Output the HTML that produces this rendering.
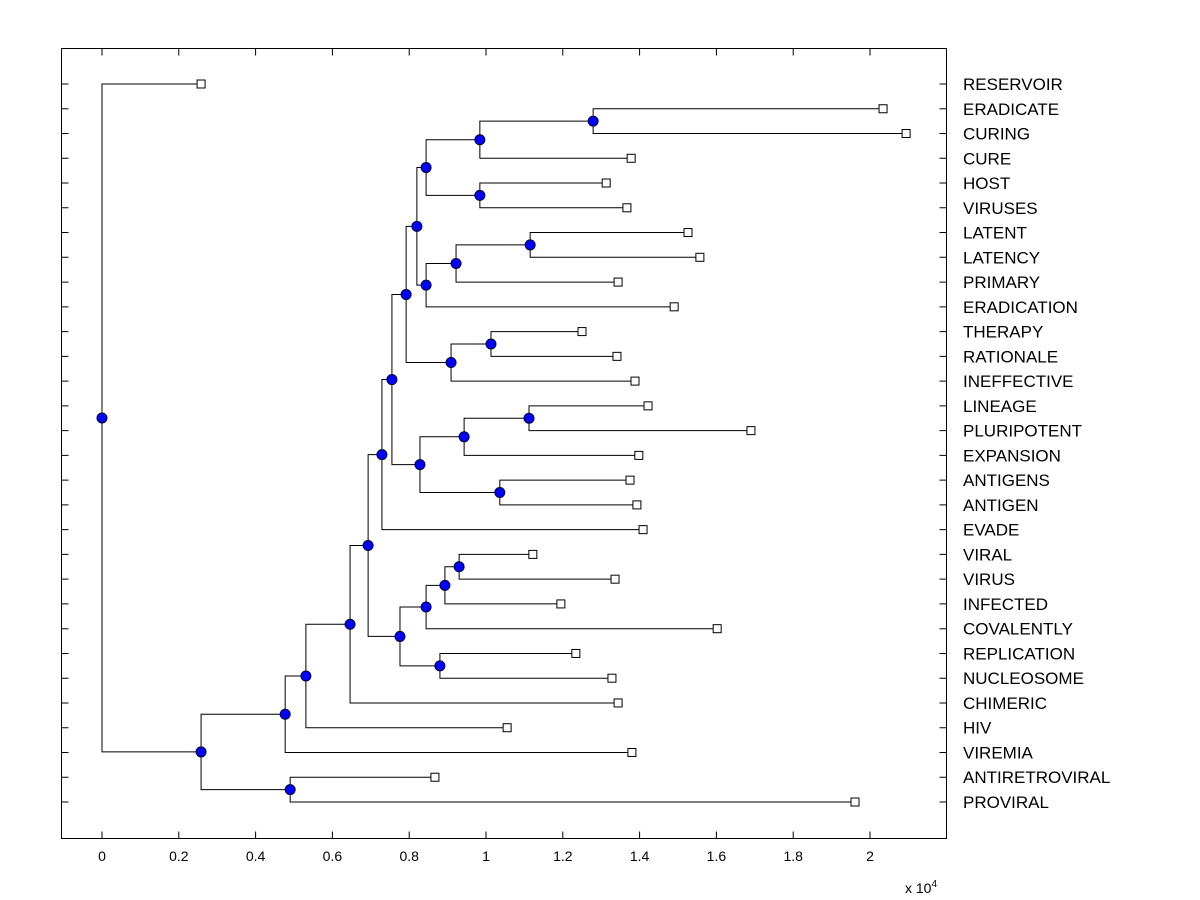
<!DOCTYPE html>
<html><head><meta charset="utf-8"><style>
body{margin:0;background:#fff;}
svg{display:block;font-family:"Liberation Sans",Arial,sans-serif;}
</style></head><body>
<svg id="chart" width="1200" height="900" viewBox="0 0 1200 900">
<rect x="61.5" y="48.5" width="885" height="790" fill="#fff" stroke="#000" stroke-width="1"/>
<g id="links"></g><g id="marks"></g><g id="axes"></g>
<text x="905" y="893" font-size="14">x 10<tspan dy="-6" font-size="10">4</tspan></text>
</svg>
<script>
const labels=["RESERVOIR","ERADICATE","CURING","CURE","HOST","VIRUSES","LATENT","LATENCY","PRIMARY","ERADICATION","THERAPY","RATIONALE","INEFFECTIVE","LINEAGE","PLURIPOTENT","EXPANSION","ANTIGENS","ANTIGEN","EVADE","VIRAL","VIRUS","INFECTED","COVALENTLY","REPLICATION","NUCLEOSOME","CHIMERIC","HIV","VIREMIA","ANTIRETROVIRAL","PROVIRAL"];
const leafValues=[0.258,2.034,2.094,1.378,1.313,1.367,1.526,1.557,1.344,1.490,1.250,1.341,1.388,1.422,1.690,1.398,1.375,1.393,1.409,1.122,1.336,1.195,1.602,1.234,1.328,1.344,1.055,1.380,0.867,1.961];
const mergeLeft=[1,30,4,31,6,34,35,33,10,38,37,13,41,16,42,40,45,19,47,48,23,49,46,52,53,54,28,55,0];
const mergeRight=[2,3,5,32,7,8,9,36,11,12,39,14,15,17,43,44,18,20,21,22,24,50,51,25,26,27,29,56,57];
const mergeHeights=[1.279,0.984,0.984,0.844,1.115,0.922,0.844,0.820,1.013,0.909,0.792,1.112,0.943,1.036,0.828,0.755,0.729,0.930,0.893,0.844,0.880,0.776,0.693,0.646,0.531,0.477,0.490,0.258,0];
const xTicks=[0,0.2,0.4,0.6,0.8,1,1.2,1.4,1.6,1.8,2];
const xTickLabels=["0","0.2","0.4","0.6","0.8","1","1.2","1.4","1.6","1.8","2"];
const NS="http://www.w3.org/2000/svg";
const X=v=>102+v*384;
const Y=i=>84+i*(802-84)/29;
function mk(tag,attrs,parent){const e=document.createElementNS(NS,tag);for(const k in attrs)e.setAttribute(k,attrs[k]);parent.appendChild(e);return e;}
const links=document.getElementById('links'),marks=document.getElementById('marks'),axes=document.getElementById('axes');
const nx=[],ny=[];
leafValues.forEach((v,i)=>{nx[i]=X(v);ny[i]=Y(i);});
mergeHeights.forEach((h,k)=>{
  const id=labels.length+k,a=mergeLeft[k],b=mergeRight[k];
  nx[id]=X(h);ny[id]=(ny[a]+ny[b])/2;
  const p=mk('path',{d:`M${nx[a]},${ny[a]}H${nx[id]}V${ny[b]}H${nx[b]}`,fill:'none',stroke:'#000','stroke-width':1},links);
  
  
});
leafValues.forEach((v,i)=>{
  const r=mk('rect',{x:nx[i]-4,y:ny[i]-4,width:8,height:8,fill:'#fff',stroke:'#000','stroke-width':1},marks);
  
  
  const t=mk('text',{x:963,y:ny[i]+6,'font-size':17},axes);t.textContent=labels[i];
  
  
  const l=mk('path',{d:`M61.5,${ny[i]}h7M946.5,${ny[i]}h-7`,stroke:'#000'},axes);
  
  
});
mergeHeights.forEach((h,k)=>{
  const id=labels.length+k;
  const c=mk('circle',{cx:nx[id],cy:ny[id],r:5,fill:'#0000ff',stroke:'#000033','stroke-width':1},marks);
  
  
});
xTicks.forEach((v,i)=>{
  const l=mk('path',{d:`M${X(v)},838.5v-7M${X(v)},48.5v7`,stroke:'#000'},axes);
  
  
  const t=mk('text',{x:X(v),y:861,'font-size':14,'text-anchor':'middle'},axes);t.textContent=xTickLabels[i];
  
  
});
</script>
</body></html>
